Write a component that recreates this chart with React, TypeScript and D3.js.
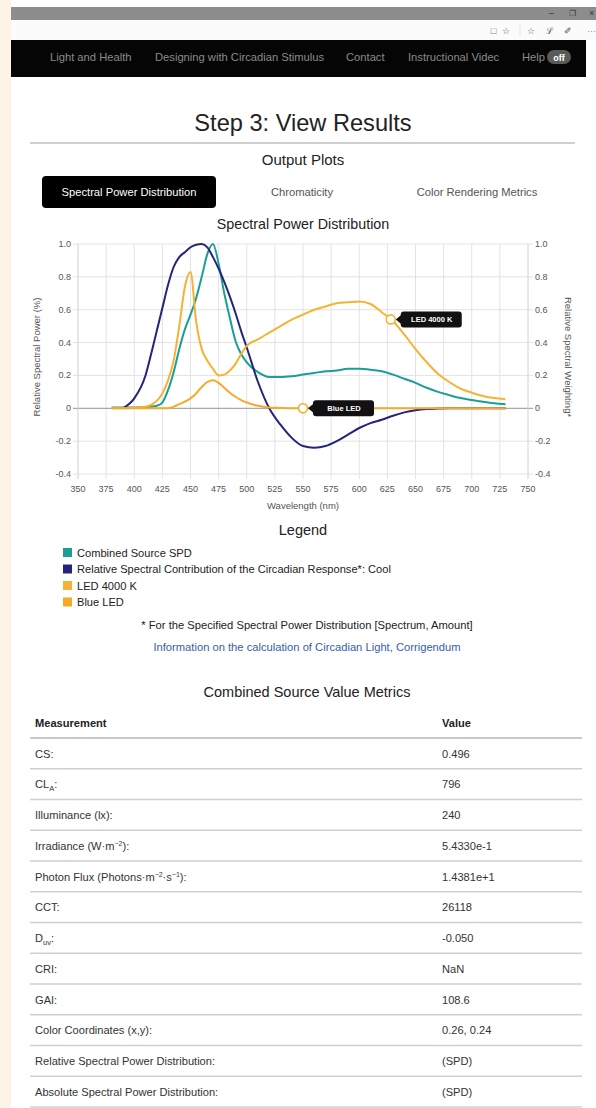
import React from 'react';
import * as d3 from 'd3';

// wavelength samples (nm) shared by all series
const wavelengths = [380, 390, 400, 410, 415, 420, 425, 430, 435, 440, 445, 450, 455, 460, 465, 470, 475, 480, 485, 490, 495, 500, 510, 520, 530, 540, 550, 560, 570, 580, 590, 600, 610, 620, 630, 640, 650, 660, 670, 680, 690, 700, 710, 720, 730];

const combinedSPD = [0.005, 0.005, 0.005, 0.008, 0.01, 0.015, 0.035, 0.11, 0.22, 0.36, 0.48, 0.57, 0.67, 0.8, 0.94, 1.0, 0.88, 0.7, 0.55, 0.41, 0.33, 0.28, 0.22, 0.19, 0.19, 0.195, 0.205, 0.215, 0.225, 0.23, 0.24, 0.24, 0.235, 0.225, 0.205, 0.18, 0.155, 0.125, 0.1, 0.08, 0.062, 0.05, 0.04, 0.03, 0.025];

const circadianCool = [null, 0, 0.06, 0.2, 0.33, 0.47, 0.61, 0.75, 0.86, 0.92, 0.95, 0.98, 0.995, 1.0, 0.98, 0.92, 0.85, 0.77, 0.68, 0.58, 0.47, 0.37, 0.16, 0.0, -0.1, -0.18, -0.23, -0.24, -0.23, -0.2, -0.16, -0.12, -0.09, -0.07, -0.045, -0.025, -0.012, -0.005, -0.002, 0, 0, 0, 0, 0, 0];

const led4000K = [0, 0, 0.003, 0.01, 0.02, 0.045, 0.09, 0.17, 0.29, 0.5, 0.74, 0.83, 0.53, 0.36, 0.29, 0.24, 0.2, 0.205, 0.23, 0.27, 0.33, 0.38, 0.42, 0.46, 0.5, 0.54, 0.57, 0.6, 0.62, 0.64, 0.645, 0.65, 0.635, 0.585, 0.53, 0.45, 0.36, 0.28, 0.21, 0.16, 0.12, 0.095, 0.075, 0.062, 0.055];

const blueLED = [0, 0, 0, 0, 0, 0, 0, 0, 0.01, 0.025, 0.04, 0.06, 0.09, 0.13, 0.16, 0.17, 0.155, 0.125, 0.095, 0.07, 0.05, 0.035, 0.015, 0.005, 0.002, 0, 0, 0, 0, 0, 0, 0, 0, 0, 0, 0, 0, 0, 0, 0, 0, 0, 0, 0, 0];

const seriesNames = ['Combined Source SPD', 'Relative Spectral Contribution of the Circadian Response*: Cool', 'LED 4000 K', 'Blue LED'];
const seriesColors = ['#1b9e97', '#23247a', '#f6b234', '#f7aa2a'];
const seriesValues = [combinedSPD, circadianCool, led4000K, blueLED];

const xTicks = [350, 375, 400, 425, 450, 475, 500, 525, 550, 575, 600, 625, 650, 675, 700, 725, 750];
const yTicks = [1.0, 0.8, 0.6, 0.4, 0.2, 0, -0.2, -0.4];

// hover labels visible in the screenshot: [series index, wavelength]
const tooltipSeries = [2, 3];
const tooltipWavelengths = [628, 550];

const navItems = ['Light and Health', 'Designing with Circadian Stimulus', 'Contact', 'Instructional Videc'];
const navX = [50, 155, 346, 408];

const metricLabels = ['CS:', 'CL_A:', 'Illuminance (lx):', 'Irradiance (W·m^-2):', 'Photon Flux (Photons·m^-2·s^-1):', 'CCT:', 'D_uv:', 'CRI:', 'GAI:', 'Color Coordinates (x,y):', 'Relative Spectral Power Distribution:', 'Absolute Spectral Power Distribution:'];
const metricValues = ['0.496', '796', '240', '5.4330e-1', '1.4381e+18', '26118', '-0.050', 'NaN', '108.6', '0.26, 0.24', '(SPD)', '(SPD)'];

const FONT = '"Liberation Sans", Arial, Helvetica, sans-serif';

// render labels with _sub and ^sup parts
function richLabel(label: string) {
  const parts = label.split(/([_^][^:·)\s]+)/).filter(p => p !== '');
  return parts.map((p, i) => {
    if (p[0] === '_') return <tspan key={i} fontSize={7.5} dy={3}>{p.slice(1)}</tspan>;
    if (p[0] === '^') return <tspan key={i} fontSize={7} dy={-4}>{p.slice(1).replace('-', '\u2212')}</tspan>;
    const prev = parts[i - 1];
    const dy = prev && prev[0] === '_' ? -3 : prev && prev[0] === '^' ? 4 : 0;
    return <tspan key={i} dy={dy}>{p}</tspan>;
  });
}

function valueAt(values: (number | null)[], wl: number) {
  const i = d3.bisectLeft(wavelengths, wl);
  if (wavelengths[i] === wl) return values[i] as number;
  const t = (wl - wavelengths[i - 1]) / (wavelengths[i] - wavelengths[i - 1]);
  return (values[i - 1] as number) * (1 - t) + (values[i] as number) * t;
}

export default function App() {
  const x = d3.scaleLinear().domain([350, 750]).range([78, 528]);
  const y = d3.scaleLinear().domain([-0.4, 1.0]).range([474, 244]);

  const line = d3.line<[number, number | null]>()
    .defined(d => d[1] != null)
    .x(d => x(d[0]))
    .y(d => y(d[1] as number))
    .curve(d3.curveMonotoneX);

  const fmt = (v: number) => (v === 0 ? '0' : v.toFixed(1));

  const rowTop = 738;
  const rowH = 30.75;

  return (
    <svg width={596} height={1108} style={{ position: 'absolute', left: 0, top: 0, display: 'block', background: '#fff' }} fontFamily={FONT}>
      <defs>
        <clipPath id="valClip"><rect x={0} y={0} width={495} height={1108} /></clipPath>
      </defs>
      {/* browser chrome */}
      <rect x={0} y={0} width={11} height={1108} fill="#fdf3e6" />
      <rect x={11} y={7} width={585} height={13} fill="#8d8d8d" />
      <text x={549} y={16} fontSize={9} fill="#333">–</text>
      <text x={569} y={16} fontSize={8} fill="#333">❐</text>
      <text x={589} y={16} fontSize={9} fill="#333">×</text>
      <rect x={11} y={20} width={585} height={20} fill="#fbfbfb" />
      <text x={490} y={34} fontSize={8} fill="#888">☐</text>
      <text x={502} y={34} fontSize={9} fill="#555">☆</text>
      <line x1={520} x2={520} y1={23} y2={37} stroke="#e6e6e6" />
      <text x={527} y={34} fontSize={9} fill="#555">☆</text>
      <text x={546} y={34} fontSize={9} fill="#555">ℒ</text>
      <text x={564} y={34} fontSize={9} fill="#555">✐</text>
      <text x={587} y={34} fontSize={9} fill="#888">···</text>

      {/* nav bar */}
      <rect x={11} y={40} width={575} height={37} fill="#050505" />
      {navItems.map((t, i) => (
        <text key={t} x={navX[i]} y={61} fontSize={11.2} fill="#8a8a8a">{t}</text>
      ))}
      <text x={522} y={61} fontSize={11.2} fill="#8a8a8a">Help</text>
      <rect x={547} y={50} width={24} height={14} rx={7} fill="#5a5a5a" />
      <text x={559} y={60.5} fontSize={9} fontWeight="bold" fill="#fff" textAnchor="middle">off</text>

      {/* headings */}
      <text x={303} y={131} fontSize={23.6} fill="#222" textAnchor="middle">Step 3: View Results</text>
      <line x1={30} x2={575} y1={143} y2={143} stroke="#cfcfcf" strokeWidth={2} />
      <text x={303} y={165} fontSize={15} fill="#222" textAnchor="middle">Output Plots</text>

      <rect x={42} y={176} width={174} height={32} rx={4} fill="#000" />
      <text x={129} y={195.5} fontSize={11.2} fill="#fff" textAnchor="middle">Spectral Power Distribution</text>
      <text x={302} y={195.5} fontSize={11.2} fill="#555" textAnchor="middle">Chromaticity</text>
      <text x={477} y={195.5} fontSize={11.2} fill="#555" textAnchor="middle">Color Rendering Metrics</text>

      <text x={303} y={229} fontSize={14.3} fill="#222" textAnchor="middle">Spectral Power Distribution</text>

      {/* grid */}
      <g>
        {xTicks.slice(1, -1).map(t => (
          <line key={t} x1={x(t)} x2={x(t)} y1={y(1.0)} y2={y(-0.4) + 5} stroke="#e3e3e3" />
        ))}
        {yTicks.map(t => (
          <line key={t} x1={x(350) - 5} x2={x(750) + 5} y1={y(t)} y2={y(t)} stroke={t === 0 ? '#a8a8a8' : '#e3e3e3'} strokeWidth={t === 0 ? 1.3 : 1} />
        ))}
        <line x1={x(350)} x2={x(350)} y1={y(1.0)} y2={y(-0.4) + 5} stroke="#d0d0d0" />
        <line x1={x(750)} x2={x(750)} y1={y(1.0)} y2={y(-0.4) + 5} stroke="#d0d0d0" />
      </g>

      {/* axes labels */}
      {yTicks.map(t => (
        <g key={t}>
          <text x={71} y={y(t) + 3} fontSize={9} fill="#555" textAnchor="end">{fmt(t)}</text>
          <text x={535} y={y(t) + 3} fontSize={9} fill="#555">{fmt(t)}</text>
        </g>
      ))}
      {xTicks.map(t => (
        <text key={t} x={x(t)} y={492} fontSize={9} fill="#555" textAnchor="middle">{t}</text>
      ))}
      <text x={303} y={509} fontSize={9.5} fill="#555" textAnchor="middle">Wavelength (nm)</text>
      <text transform="translate(40,357) rotate(-90)" fontSize={9.5} fill="#555" textAnchor="middle">Relative Spectral Power (%)</text>
      <text transform="translate(565,357) rotate(90)" fontSize={9.5} fill="#555" textAnchor="middle">Relative Spectral Weighting*</text>

      {/* series */}
      {seriesValues.map((vals, i) => (
        <path key={i}
          d={line(wavelengths.map((w, j) => [w, vals[j]] as [number, number | null])) || ''}
          fill="none" stroke={seriesColors[i]} strokeWidth={2} strokeLinejoin="round" />
      ))}

      {/* tooltips */}
      {tooltipSeries.map((s, i) => {
        const cx = x(tooltipWavelengths[i]);
        const cy = y(valueAt(seriesValues[s], tooltipWavelengths[i]));
        return (
          <g key={i}>
            <polygon points={`${cx + 5},${cy} ${cx + 11},${cy - 5} ${cx + 11},${cy + 5}`} fill="#111" />
            <rect x={cx + 10} y={cy - 8} width={61} height={16} rx={3} fill="#111" />
            <text x={cx + 41} y={cy + 2.7} fontSize={7.5} fontWeight="bold" fill="#fff" textAnchor="middle">{seriesNames[s]}</text>
            <circle cx={cx} cy={cy} r={4.5} fill="#fff" stroke={seriesColors[s]} strokeWidth={1.6} />
          </g>
        );
      })}

      {/* legend */}
      <text x={303} y={535} fontSize={14.5} fill="#222" textAnchor="middle">Legend</text>
      {seriesNames.map((n, i) => (
        <g key={n}>
          <rect x={63} y={548 + i * 16.5} width={9} height={9} fill={seriesColors[i]} />
          <text x={77} y={556.5 + i * 16.5} fontSize={11.1} fill="#222">{n}</text>
        </g>
      ))}
      <text x={307} y={629} fontSize={11.2} fill="#222" textAnchor="middle">* For the Specified Spectral Power Distribution [Spectrum, Amount]</text>
      <text x={307} y={651} fontSize={11.2} fill="#3560a8" textAnchor="middle">Information on the calculation of Circadian Light, Corrigendum</text>

      {/* metrics table */}
      <text x={307} y={697} fontSize={14.5} fill="#222" textAnchor="middle">Combined Source Value Metrics</text>
      <text x={35} y={727} fontSize={11.1} fontWeight="bold" fill="#222">Measurement</text>
      <text x={442} y={727} fontSize={11.1} fontWeight="bold" fill="#222">Value</text>
      <line x1={30} x2={582} y1={rowTop} y2={rowTop} stroke="#c8c8c8" strokeWidth={2} />
      {metricLabels.map((m, i) => {
        const base = rowTop + i * rowH + 19.5;
        return (
          <g key={m}>
            <text x={35} y={base} fontSize={11.1} fill="#333">{richLabel(m)}</text>
            <text x={442} y={base} fontSize={11.1} fill="#333" clipPath="url(#valClip)">{metricValues[i]}</text>
            <line x1={30} x2={582} y1={rowTop + (i + 1) * rowH} y2={rowTop + (i + 1) * rowH} stroke="#cfcfcf" strokeWidth={1.5} />
          </g>
        );
      })}
    </svg>
  );
}
